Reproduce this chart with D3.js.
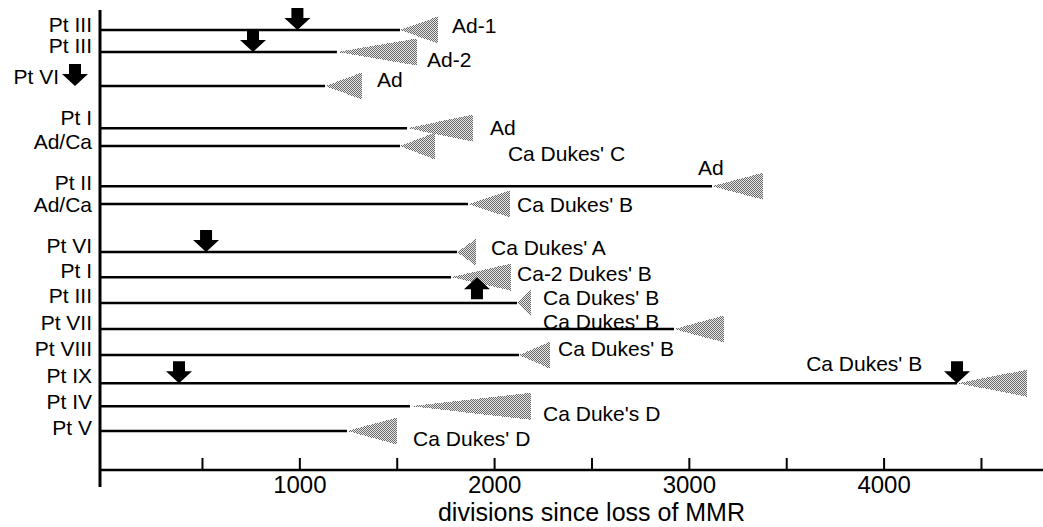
<!DOCTYPE html>
<html>
<head>
<meta charset="utf-8">
<script src="https://cdn.jsdelivr.net/npm/d3@7"></script>
<style>
    body { margin: 0; background: #fff; }
    text { font-family: "Liberation Sans", Arial, Helvetica, sans-serif; fill: #000; }
</style>
</head>
<body>
<div id="chart"></div>
<script>
const width = 1043;
const height = 527;

// one row per tumour, top to bottom
const patients = ["Pt III", "Pt III", "Pt VI", "Pt I", "Ad/Ca", "Pt II", "Ad/Ca",
    "Pt VI", "Pt I", "Pt III", "Pt VII", "Pt VIII", "Pt IX", "Pt IV", "Pt V"];
const tumours = ["Ad-1", "Ad-2", "Ad", "Ad", "Ca Dukes' C", "Ad", "Ca Dukes' B",
    "Ca Dukes' A", "Ca-2 Dukes' B", "Ca Dukes' B", "Ca Dukes' B", "Ca Dukes' B",
    "Ca Dukes' B", "Ca Duke's D", "Ca Dukes' D"];
// divisions where the solid line stops and the wedge starts / where the wedge ends
const lineEnd = [1517, 1193, 1132, 1553, 1517, 3119, 1866, 1810, 1779, 2118, 2924, 2128, 4377, 1568, 1245];
const wedgeEnd = [1712, 1604, 1322, 1892, 1696, 3381, 2082, 1907, 2087, 2190, 3181, 2287, 4737, 2190, 1502];

// block arrows: row index, divisions, direction
const arrowRow = [0, 1, 2, 7, 8, 12, 12];
const arrowAt = [990, 762, -152, 521, 1912, 382, 4377];
const arrowDir = ["down", "down", "down", "down", "up", "down", "down"];

const tickValues = [500, 1000, 1500, 2000, 2500, 3000, 3500, 4000, 4500];
const tickLabels = [1000, 2000, 3000, 4000];

// layout: vertical slot of each row, and label nudges (px)
const rowSlot = [0, 0.86, 2.19, 3.84, 4.54, 6.11, 6.81, 8.69, 9.67, 10.68, 11.7, 12.72, 13.82, 14.72, 15.69];
const leftDy = [-6, -6, -9, -11, -5, -4, 0, -7, -7, -7, -7, -7, -8, -5, -4];
const labelDx = [14, 10, 15, 17, 73, -65, 7, 15, 6, 12, -181, 8, -221, 12, 16];
const labelDy = [-5, 8, -6, -1, 7, -19, 0, -5, -4, -5, -8, -7, -20, 7, 7];

const axisX = 100;
const axisY = 470;
const wedgeHalf = 13.5;

const x = d3.scaleLinear().domain([0, 5000]).range([104.6, 1078.35]);
const y = d3.scaleLinear().domain([0, 15.69]).range([30, 431]);

const rows = patients.map((p, i) => ({
    patient: p,
    tumour: tumours[i],
    lineEnd: lineEnd[i],
    wedgeEnd: wedgeEnd[i],
    yy: y(rowSlot[i]),
    i: i
}));

const svg = d3.select("#chart").append("svg")
    .attr("width", width)
    .attr("height", height);

// stippled grey fill for the wedges
const pat = svg.append("defs").append("pattern")
    .attr("id", "stipple")
    .attr("patternUnits", "userSpaceOnUse")
    .attr("width", 2)
    .attr("height", 2);
pat.append("rect").attr("width", 2).attr("height", 2).attr("fill", "#e6e6e6");
pat.append("rect").attr("width", 1).attr("height", 1).attr("fill", "#6a6a6a");
pat.append("rect").attr("x", 1).attr("y", 1).attr("width", 1).attr("height", 1).attr("fill", "#6a6a6a");

// x axis: ticks point up, labels below
const xAxis = d3.axisBottom(x)
    .tickValues(tickValues)
    .tickSizeInner(-12)
    .tickSizeOuter(0)
    .tickPadding(6)
    .tickFormat(d => tickLabels.includes(d) ? d : "");

const gx = svg.append("g")
    .attr("transform", `translate(0,${axisY})`)
    .call(xAxis);
gx.select(".domain").remove();
gx.selectAll(".tick line").attr("stroke", "#000").attr("stroke-width", 2);
gx.selectAll(".tick text")
    .style("font-size", "24px")
    .style("font-family", "'Liberation Sans', Arial, Helvetica, sans-serif");

svg.append("line")
    .attr("x1", axisX).attr("x2", width)
    .attr("y1", axisY).attr("y2", axisY)
    .attr("stroke", "#000").attr("stroke-width", 2.5);

svg.append("line")
    .attr("x1", axisX).attr("x2", axisX)
    .attr("y1", 10).attr("y2", 487)
    .attr("stroke", "#000").attr("stroke-width", 3);

svg.append("text")
    .attr("x", x(2500))
    .attr("y", 521)
    .attr("text-anchor", "middle")
    .style("font-size", "25px")
    .text("divisions since loss of MMR");

// row lines
svg.append("g").selectAll("line")
    .data(rows)
    .join("line")
    .attr("x1", axisX)
    .attr("x2", d => x(d.lineEnd))
    .attr("y1", d => d.yy)
    .attr("y2", d => d.yy)
    .attr("stroke", "#000")
    .attr("stroke-width", 2.5);

// wedges
svg.append("g").selectAll("path")
    .data(rows)
    .join("path")
    .attr("d", d => {
        const a = x(d.lineEnd), b = x(d.wedgeEnd);
        return `M${a},${d.yy}L${b},${d.yy - wedgeHalf}L${b},${d.yy + wedgeHalf}Z`;
    })
    .attr("fill", "url(#stipple)")
    .attr("shape-rendering", "crispEdges");

// patient labels
svg.append("g").selectAll("text")
    .data(rows)
    .join("text")
    .attr("x", d => d.i === 2 ? 59 : 92)
    .attr("y", d => d.yy + leftDy[d.i])
    .attr("text-anchor", "end")
    .attr("dominant-baseline", "central")
    .style("font-size", "21px")
    .text(d => d.patient);

// tumour labels
svg.append("g").selectAll("text")
    .data(rows)
    .join("text")
    .attr("x", d => x(d.wedgeEnd) + labelDx[d.i])
    .attr("y", d => d.yy + labelDy[d.i])
    .attr("dominant-baseline", "central")
    .style("font-size", "21px")
    .text(d => d.tumour);

// block arrows, tip on the row line
const arrowPath = "M0,0L-13,-12L-6,-12L-6,-22L6,-22L6,-12L13,-12Z";
svg.append("g").selectAll("path")
    .data(arrowRow.map((r, k) => ({ r, v: arrowAt[k], dir: arrowDir[k] })))
    .join("path")
    .attr("d", arrowPath)
    .attr("transform", d => {
        const yy = y(rowSlot[d.r]);
        return `translate(${x(d.v)},${yy})` + (d.dir === "up" ? " scale(1,-1)" : "");
    })
    .attr("fill", "#000");
</script>
</body>
</html>
